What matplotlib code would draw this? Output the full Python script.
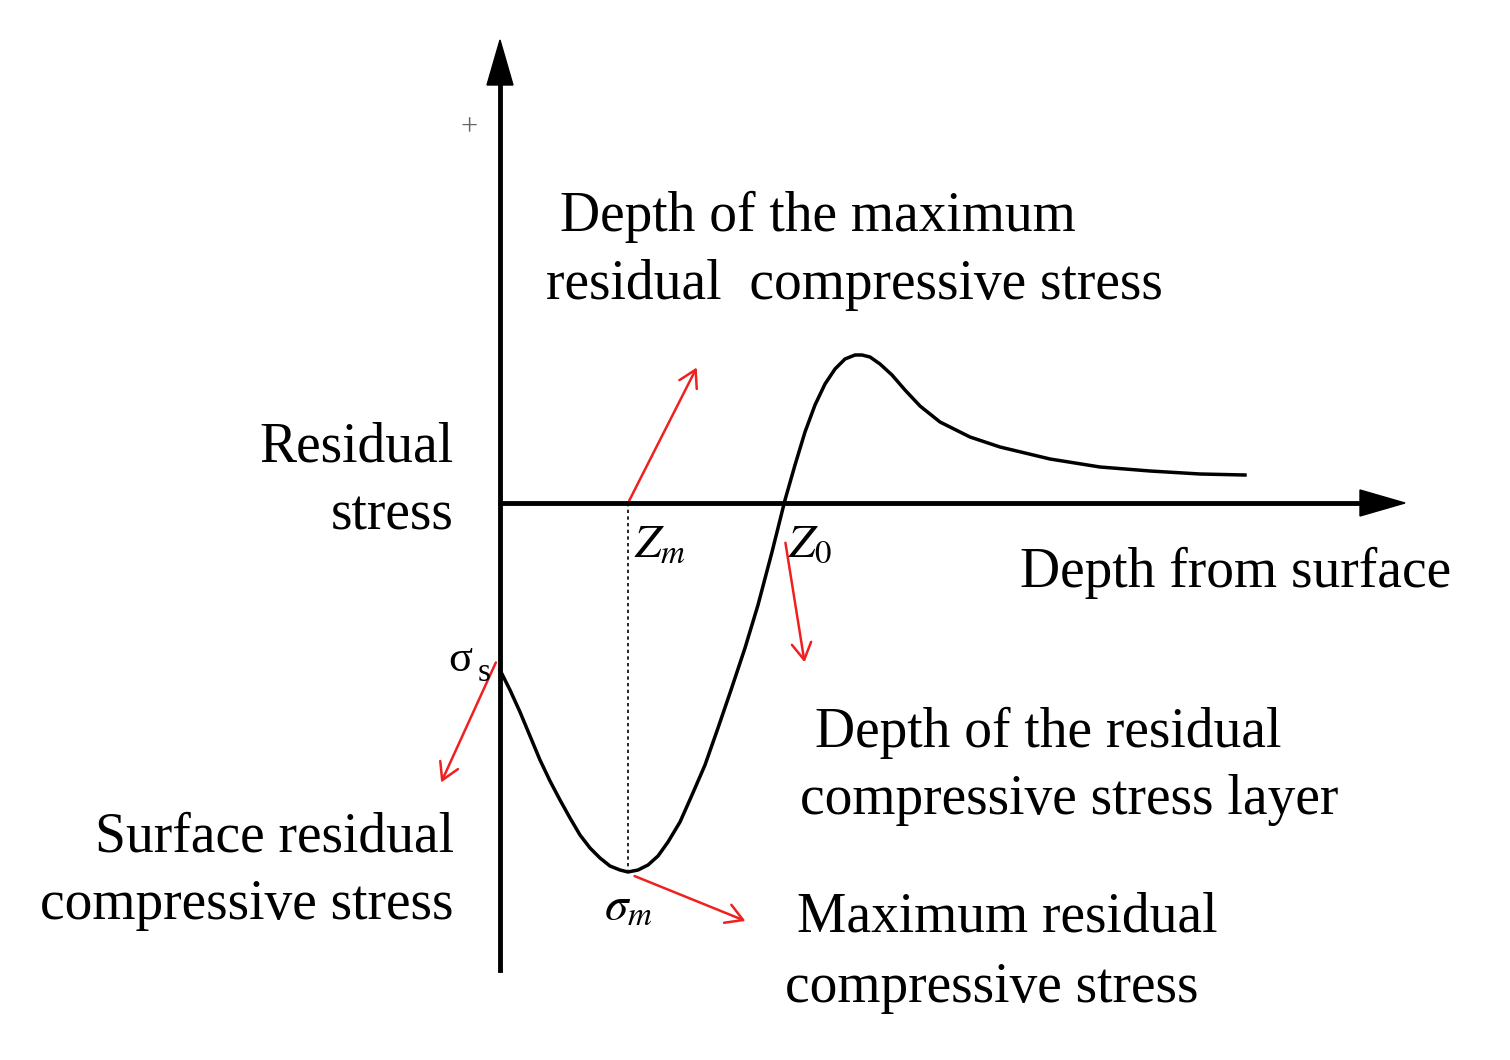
import matplotlib.pyplot as plt
from matplotlib.patches import FancyArrowPatch

plt.rcParams["mathtext.fontset"] = "stix"

# schematic curve, pixel coordinates (y down)
curve_x = [500, 510, 520, 530, 540, 550, 560, 570, 580, 590, 600, 610, 620, 628, 638, 648, 658,
           668, 680, 692, 705, 718, 731, 745, 758, 772, 785, 795, 805, 815, 825, 835, 845, 855,
           862, 870, 880, 892, 905, 920, 940, 970, 1000, 1050, 1100, 1150, 1200, 1245]
curve_y = [670, 690, 712, 736, 760, 781, 800, 818, 835, 848, 858, 866, 870, 872, 870, 865, 856,
           842, 822, 795, 765, 728, 690, 648, 605, 552, 500, 465, 432, 405, 384, 369, 359, 355,
           355, 357, 364, 375, 390, 406, 422, 437, 447, 459, 467, 471, 474, 475]

# red pointer arrows: (start, end)
pointers = [((628, 503), (698, 365)),
            ((785, 540), (805, 665)),
            ((497, 660), (440, 785)),
            ((632, 875), (748, 922))]

SERIF = ["Liberation Serif", "DejaVu Serif"]
FS = 40

fig = plt.figure(figsize=(15.1, 10.6), dpi=100)
ax = fig.add_axes([0, 0, 1, 1])
ax.set_xlim(0, 1510)
ax.set_ylim(1060, 0)
ax.axis("off")

# axes with arrowheads
ax.plot([500, 500], [970, 80], color="black", lw=3.5)
ax.plot([500, 1370], [503, 503], color="black", lw=3.5)
ax.fill([487, 513, 500], [85, 85, 40], color="black")
ax.fill([1360, 1360, 1405], [490, 516, 503], color="black")

ax.plot(curve_x, curve_y, color="black", lw=2.5)
ax.plot([628, 628], [503, 870], color="black", lw=1.2, ls=(0, (2, 2)))

for (x0, y0), (x1, y1) in pointers:
    ax.add_patch(FancyArrowPatch((x0, y0), (x1, y1), arrowstyle="->,head_length=12,head_width=7",
                                 color="#f02020", lw=1.8, mutation_scale=1))

def txt(x, y, s, ha="left", **kw):
    ax.text(x, y, s, ha=ha, va="center", fontsize=kw.pop("fontsize", FS), family=SERIF, **kw)

txt(560, 217, "Depth of the maximum")
txt(546, 285, "residual  compressive stress")
txt(454, 447, "Residual", ha="right")
txt(454, 515, "stress", ha="right")
txt(1020, 573, "Depth from surface")
txt(815, 733, "Depth of the residual")
txt(800, 800, "compressive stress layer")
txt(454, 838, "Surface residual", ha="right")
txt(454, 905, "compressive stress", ha="right")
txt(797, 918, "Maximum residual")
txt(785, 988, "compressive stress")
txt(460, 128, "+", fontsize=22, color="#666666")
txt(634, 545, r"$Z_m$", fontsize=34)
txt(788, 545, r"$Z_0$", fontsize=34)
txt(448, 660, "σ", fontsize=32)
txt(478, 673, "s", fontsize=24)
txt(604, 907, r"$\sigma_m$", fontsize=34)

fig.savefig("out.png", dpi=100)
